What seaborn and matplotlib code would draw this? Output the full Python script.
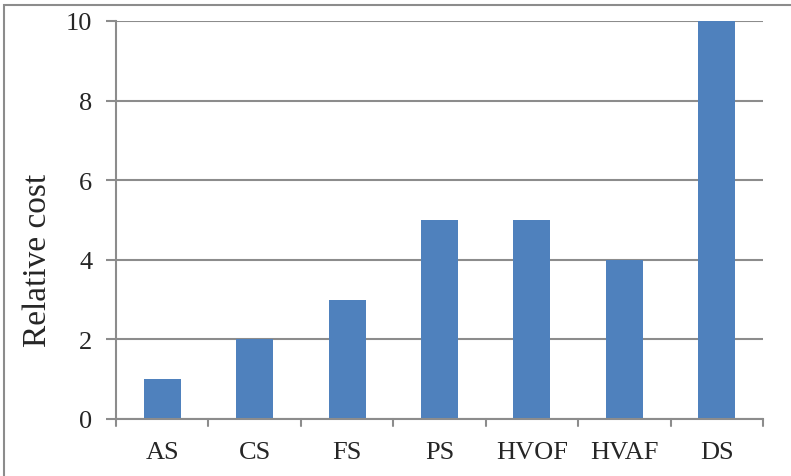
import seaborn as sns
import matplotlib.pyplot as plt
import pandas as pd
from matplotlib.patches import Rectangle

# relative cost per spraying process
processes = ['AS', 'CS', 'FS', 'PS', 'HVOF', 'HVAF', 'DS']
relative_cost = [1, 2, 3, 5, 5, 4, 10]
y_ticks = [0, 2, 4, 6, 8, 10]

df = pd.DataFrame({'process': processes, 'cost': relative_cost})

sns.set_style('white')
plt.rcParams['font.family'] = ['Liberation Serif', 'DejaVu Serif']

fig = plt.figure(figsize=(7.91, 4.77), dpi=100)
ax = fig.add_axes([0.1467, 0.1195, 0.8179, 0.8344])

sns.barplot(data=df, x='process', y='cost', color='#4F81BD', saturation=1,
            width=0.4, linewidth=0, edgecolor='none', ax=ax)

ax.set_ylim(0, 10)
ax.set_xlim(-0.5, len(processes) - 0.5)
ax.set_yticks(y_ticks)
ax.set_yticklabels([str(t) for t in y_ticks], fontsize=19)
ax.set_xticks(range(len(processes)))
ax.set_xticklabels(processes, fontsize=19)
ax.set_xlabel('')
ax.set_ylabel('Relative cost', fontsize=24)
ax.yaxis.set_label_coords(-0.098, 0.40)

# gridlines behind the bars
ax.set_axisbelow(True)
ax.yaxis.grid(True, color='#8c8c8c', linewidth=1.5)
ax.xaxis.grid(False)

for s in ['top', 'right']:
    ax.spines[s].set_visible(False)
for s in ['left', 'bottom']:
    ax.spines[s].set_color('#8c8c8c')
    ax.spines[s].set_linewidth(1.5)

# y ticks point outward, x ticks sit at category boundaries
ax.tick_params(axis='y', direction='out', length=7, width=1.5, color='#8c8c8c',
               left=True, pad=10)
ax.tick_params(axis='x', length=0, pad=16)
for b in range(len(processes) + 1):
    ax.plot([b - 0.5, b - 0.5], [0, -0.17], color='#8c8c8c', linewidth=1.5,
            clip_on=False)

# outer chart frame
fig.patches.append(Rectangle((4 / 791, -0.1), 1.2, 1 - 6 / 477 + 0.1,
                             transform=fig.transFigure, fill=False,
                             edgecolor='#8c8c8c', linewidth=1.5))

fig.savefig('out.png', dpi=100)
